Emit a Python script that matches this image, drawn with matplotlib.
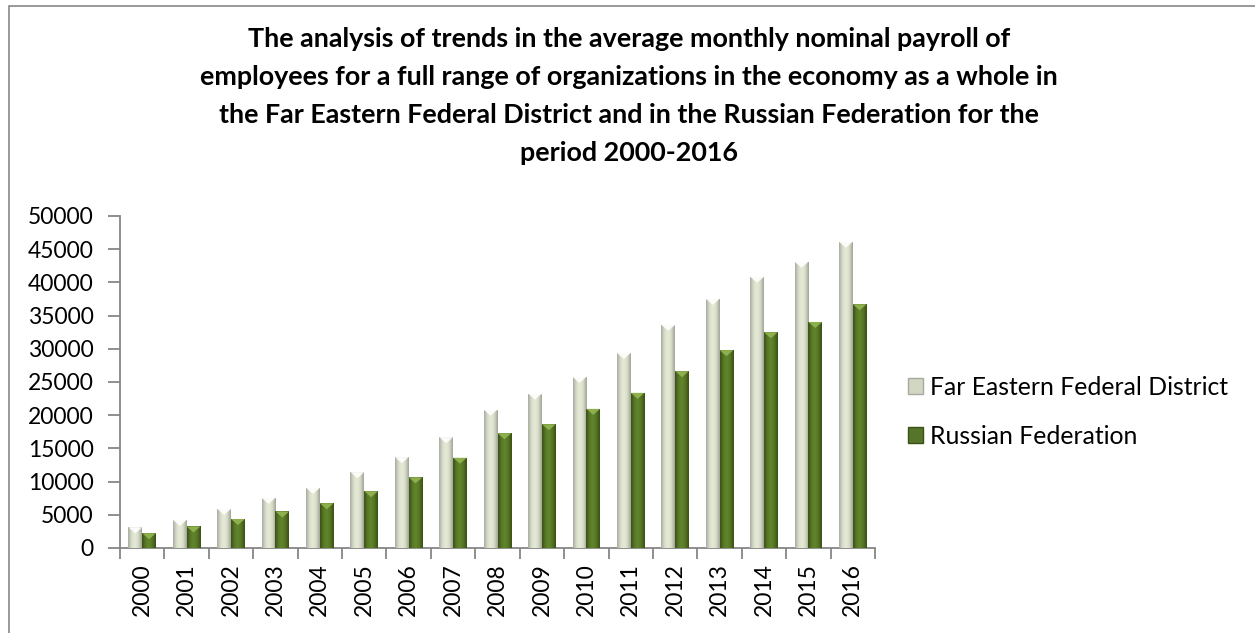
import numpy as np
import matplotlib
matplotlib.use("Agg")
import matplotlib.pyplot as plt
from matplotlib.patches import Rectangle, Polygon
from matplotlib.colors import LinearSegmentedColormap

years = [str(y) for y in range(2000, 2017)]
far_east = [3110, 4225, 5885, 7545, 9055, 11410, 13675, 16690, 20830, 23240,
            25750, 29370, 33600, 37520, 40840, 43100, 46120]
russia = [2223, 3240, 4360, 5499, 6740, 8555, 10634, 13593, 17290, 18638,
          20952, 23369, 26629, 29792, 32495, 34030, 36709]
series_names = ["Far Eastern Federal District", "Russian Federation"]

title = ("The analysis of trends in the average monthly nominal payroll of\n"
         "employees for a full range of organizations in the economy as a whole in\n"
         "the Far Eastern Federal District and in the Russian Federation for the\n"
         "period 2000-2016")

plt.rcParams['font.family'] = ['Lato', 'DejaVu Sans']

W, H = 1255, 633
fig = plt.figure(figsize=(W / 100, H / 100), dpi=100)
# outer chart border
fig.patches.append(Rectangle((9 / W, -0.1), 1.2, (H - 6) / H + 0.1,
                             transform=fig.transFigure, fill=False,
                             edgecolor="#888888", linewidth=1.2))

ax = fig.add_axes([120 / W, 1 - 548 / H, (875 - 120) / W, (548 - 216) / H])

# gradient colour maps for the bevelled look
light_cm = LinearSegmentedColormap.from_list(
    "light", ["#a7aa9f", "#d9decb", "#e6ebd8", "#d6dcc6", "#9fa397"])
dark_cm = LinearSegmentedColormap.from_list(
    "dark", ["#3b5016", "#587a27", "#62852c", "#557524", "#3a4f15"])
grad = np.linspace(0, 1, 64).reshape(1, -1)

x = np.arange(len(years))
bw = 0.31
specs = [(far_east, -bw / 2, light_cm, "#d7dccb", "#ffffff"),
         (russia, bw / 2, dark_cm, "#55752a", "#93b552")]

for vals, off, cm, base, tip in specs:
    bars = ax.bar(x + off, vals, width=bw, color=base, edgecolor="none", zorder=2)
    for b in bars:
        x0, w, h = b.get_x(), b.get_width(), b.get_height()
        im = ax.imshow(grad, cmap=cm, aspect="auto", extent=(x0, x0 + w, 0, h),
                       zorder=3, interpolation="bicubic")
        im.set_clip_path(b)
        # small chevron at the top of each bar
        th = 900
        ax.add_patch(Polygon([(x0, h), (x0 + w, h), (x0 + w / 2, h - th)],
                             closed=True, facecolor=tip, edgecolor="none",
                             alpha=0.9, zorder=4))

ax.set_xlim(-0.5, len(years) - 0.5)
ax.set_ylim(0, 50000)
ax.set_yticks(range(0, 50001, 5000))
ax.set_xticks(x)
ax.set_xticklabels(years, rotation=90, fontsize=16.5)
ax.set_xticks(np.arange(-0.5, len(years), 1), minor=True)
ax.tick_params(axis="x", which="major", length=0, pad=11)
ax.tick_params(axis="x", which="minor", length=8, color="#868686", width=1.3)
ax.tick_params(axis="y", length=9, color="#868686", width=1.3, labelsize=16.5, pad=10)
for s in ["top", "right"]:
    ax.spines[s].set_visible(False)
for s in ["left", "bottom"]:
    ax.spines[s].set_color("#868686")
    ax.spines[s].set_linewidth(1.3)
ax.set_facecolor("none")

fig.text(0.501, 1 - 27 / H, title, ha="center", va="top", fontsize=19.4,
         fontweight="bold", linespacing=1.7)

# legend
handles = [Rectangle((0, 0), 1, 1, facecolor="#d2d7c4", edgecolor="#a7aa9f"),
           Rectangle((0, 0), 1, 1, facecolor="#55752a", edgecolor="#3b5016")]
fig.legend(handles, series_names, loc="center left",
           bbox_to_anchor=(886 / W, 1 - 412 / H), frameon=False,
           fontsize=17.8, handlelength=0.6, handleheight=0.6,
           handletextpad=0.3, labelspacing=1.05)

fig.savefig("out.png", dpi=100)
